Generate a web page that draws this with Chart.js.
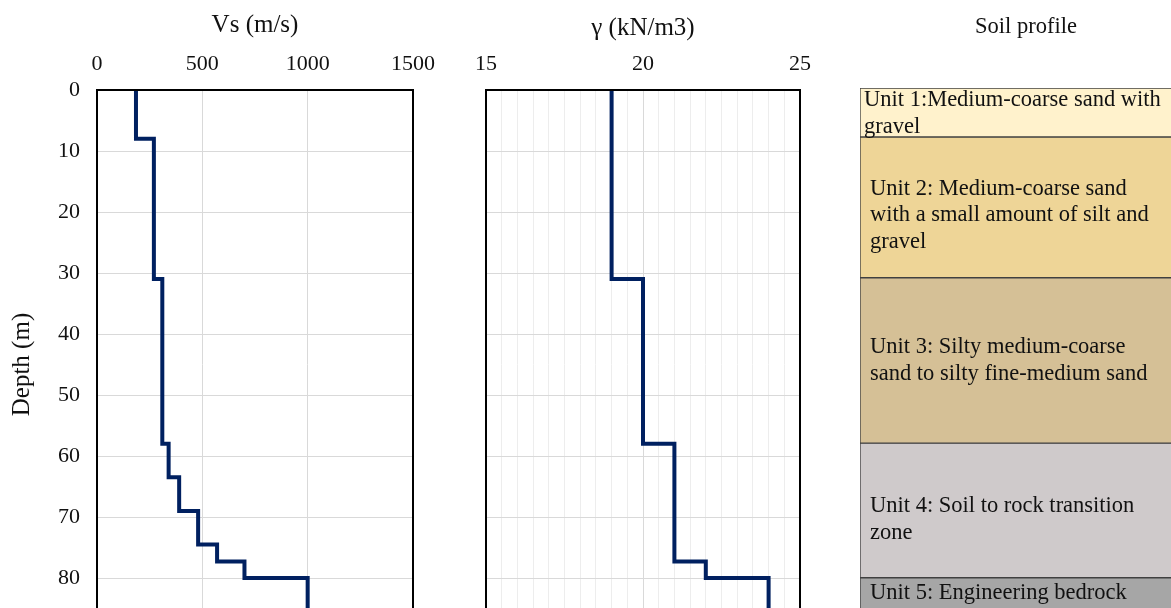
<!DOCTYPE html>
<html>
<head>
<meta charset="utf-8">
<script src="https://cdn.jsdelivr.net/npm/chart.js@4.4.1/dist/chart.umd.min.js"></script>
<style>
  html, body { margin: 0; padding: 0; background: #fff; }
  body { width: 1171px; height: 608px; overflow: hidden; position: relative; }
  canvas { position: absolute; top: 0; }
</style>
</head>
<body>
<canvas id="vsChart" width="440" height="660" style="left:0px"></canvas>
<canvas id="gammaChart" width="380" height="660" style="left:440px"></canvas>
<canvas id="soilChart" width="400" height="660" style="left:820px"></canvas>
<script>
// Shear wave velocity profile (layer top depth in m, Vs in m/s)
const vsTop = [0, 8, 31, 58, 63.5, 69, 74.5, 77.3, 80];
const vsValue = [185, 270, 310, 340, 390, 480, 570, 700, 1000];

// Unit weight profile (layer top depth in m, gamma in kN/m3)
const gammaTop = [0, 31, 58, 77.3, 80];
const gammaValue = [19, 20, 21, 22, 24];

// Soil units (top / bottom depth in m)
const unitTop = [0, 8, 31, 58, 80];
const unitBottom = [8, 31, 58, 80, 90];
const unitLabels = [
  ['Unit 1:Medium-coarse sand with', 'gravel'],
  ['Unit 2: Medium-coarse sand', 'with a small amount of silt and', 'gravel'],
  ['Unit 3: Silty medium-coarse', 'sand to silty fine-medium sand'],
  ['Unit 4: Soil to rock transition', 'zone'],
  ['Unit 5: Engineering bedrock']
];
const unitColors = ['#fff2cc', '#eed597', '#d5c096', '#cfcacb', '#a6a6a6'];

const depthMax = 90;
const FONT = "'Liberation Serif', 'Times New Roman', serif";
Chart.defaults.font.family = FONT;
Chart.defaults.color = '#111';

// turn layer tops + values into a step line
function stepPoints(tops, values) {
  const pts = [];
  for (let i = 0; i < tops.length; i++) {
    const bottom = i + 1 < tops.length ? tops[i + 1] : depthMax;
    pts.push({ x: values[i], y: tops[i] });
    pts.push({ x: values[i], y: bottom });
  }
  return pts;
}

// no extra room for overhanging tick labels, layout padding does it
function noOverhang(scale) {
  scale.paddingLeft = 0;
  scale.paddingRight = 0;
  scale.paddingTop = 0;
  scale.paddingBottom = 0;
}

// black frame around the plot area
const framePlugin = {
  id: 'frame',
  afterDraw(chart) {
    const a = chart.chartArea;
    const ctx = chart.ctx;
    ctx.save();
    ctx.strokeStyle = '#000';
    ctx.lineWidth = 2;
    ctx.strokeRect(a.left, a.top, a.right - a.left, a.bottom - a.top);
    ctx.restore();
  }
};

function depthAxis(showLabels) {
  return {
    type: 'linear',
    reverse: true,
    min: 0,
    max: depthMax,
    ticks: {
      display: showLabels,
      stepSize: 10,
      padding: 17,
      font: { size: 22 },
      color: '#111'
    },
    grid: { color: '#d9d9d9', drawTicks: false },
    border: { display: false },
    title: {
      display: showLabels,
      text: 'Depth (m)',
      font: { size: 25 },
      color: '#111',
      padding: { top: 7, bottom: 0 }
    },
    afterFit(scale) {
      scale.width = showLabels ? 97 : 46;
      noOverhang(scale);
    }
  };
}

function lineDataset(points) {
  return {
    data: points,
    showLine: true,
    borderColor: '#002060',
    borderWidth: 4,
    pointRadius: 0,
    tension: 0,
    fill: false
  };
}

// Vs chart
new Chart(document.getElementById('vsChart'), {
  type: 'scatter',
  data: { datasets: [lineDataset(stepPoints(vsTop, vsValue))] },
  options: {
    responsive: false,
    animation: false,
    devicePixelRatio: 1,
    layout: { autoPadding: false, padding: { left: 0, right: 27, top: 0, bottom: 21 } },
    plugins: { legend: { display: false }, tooltip: { enabled: false } },
    scales: {
      x: {
        type: 'linear',
        position: 'top',
        min: 0,
        max: 1500,
        ticks: { stepSize: 500, padding: 13, font: { size: 22 }, color: '#111', callback: v => v },
        grid: { color: '#d9d9d9', drawTicks: false },
        border: { display: false },
        title: {
          display: true,
          text: 'Vs (m/s)',
          font: { size: 25 },
          color: '#111',
          padding: { top: 10, bottom: 0 }
        },
        afterFit(scale) {
          scale.height = 90;
          noOverhang(scale);
        }
      },
      y: depthAxis(true)
    }
  },
  plugins: [framePlugin]
});

// gamma chart
new Chart(document.getElementById('gammaChart'), {
  type: 'scatter',
  data: { datasets: [lineDataset(stepPoints(gammaTop, gammaValue))] },
  options: {
    responsive: false,
    animation: false,
    devicePixelRatio: 1,
    layout: { autoPadding: false, padding: { left: 0, right: 20, top: 0, bottom: 21 } },
    plugins: { legend: { display: false }, tooltip: { enabled: false } },
    scales: {
      x: {
        type: 'linear',
        position: 'top',
        min: 15,
        max: 25,
        ticks: {
          stepSize: 0.5,
          autoSkip: false,
          maxRotation: 0,
          padding: 13,
          font: { size: 22 },
          color: '#111',
          callback: v => (v % 5 === 0 ? v : '')
        },
        grid: {
          drawTicks: false,
          color: ctx => (ctx.tick && ctx.tick.value % 5 === 0 ? '#d9d9d9' : '#ededed')
        },
        border: { display: false },
        title: {
          display: true,
          text: 'γ (kN/m3)',
          font: { size: 25 },
          color: '#111',
          padding: { top: 13, bottom: 0 }
        },
        afterFit(scale) {
          scale.height = 90;
          noOverhang(scale);
        }
      },
      y: depthAxis(false)
    }
  },
  plugins: [framePlugin]
});

// text inside each soil unit
const unitTextPlugin = {
  id: 'unitText',
  afterDatasetsDraw(chart) {
    const ctx = chart.ctx;
    const yScale = chart.scales.y;
    const a = chart.chartArea;
    const lineH = 26.5;
    const shift = [1, 8, 0, 9, 0];
    ctx.save();
    ctx.font = '22.5px ' + FONT;
    ctx.fillStyle = '#111';
    ctx.textAlign = 'left';
    ctx.textBaseline = 'middle';
    unitLabels.forEach((lines, i) => {
      const top = yScale.getPixelForValue(unitTop[i]);
      const bottom = Math.min(yScale.getPixelForValue(unitBottom[i]), 608);
      const mid = (top + bottom) / 2 + shift[i];
      const x = a.left + (i === 0 ? 4 : 10);
      lines.forEach((txt, j) => {
        ctx.fillText(txt, x, mid + (j - (lines.length - 1) / 2) * lineH);
      });
    });
    ctx.restore();
  }
};

// soil profile column
new Chart(document.getElementById('soilChart'), {
  type: 'bar',
  data: {
    labels: ['Soil'],
    datasets: unitTop.map((t, i) => ({
      data: [[t, unitBottom[i]]],
      backgroundColor: unitColors[i],
      borderColor: '#404040',
      borderWidth: 1,
      borderSkipped: false,
      grouped: false,
      barPercentage: 1,
      categoryPercentage: 1
    }))
  },
  options: {
    responsive: false,
    animation: false,
    devicePixelRatio: 1,
    layout: { autoPadding: false, padding: { left: 40, right: 28, top: 0, bottom: 21 } },
    plugins: { legend: { display: false }, tooltip: { enabled: false } },
    scales: {
      x: {
        position: 'top',
        ticks: { display: false },
        grid: { display: false },
        border: { display: false },
        title: {
          display: true,
          text: 'Soil profile',
          font: { size: 22.5 },
          color: '#111',
          padding: { top: 14, bottom: 0 }
        },
        afterFit(scale) {
          scale.height = 88;
          noOverhang(scale);
        }
      },
      y: {
        display: false,
        reverse: true,
        min: 0,
        max: depthMax
      }
    }
  },
  plugins: [unitTextPlugin]
});
</script>
</body>
</html>
